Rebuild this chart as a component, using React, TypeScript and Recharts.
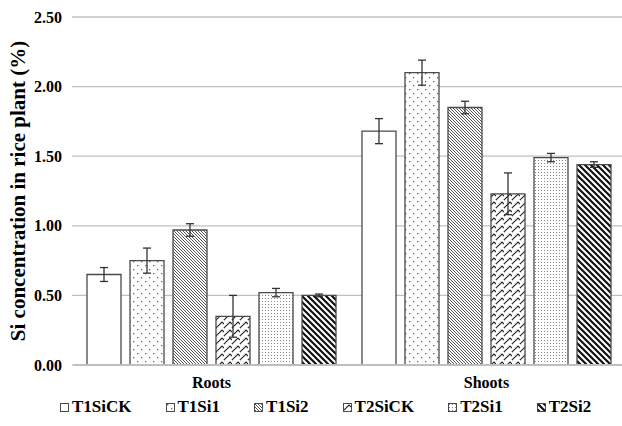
import React from 'react';
import { BarChart, Bar, XAxis, YAxis, CartesianGrid, ErrorBar, Label } from 'recharts';

const categories = ['Roots', 'Shoots'];
const seriesNames = ['T1SiCK', 'T1Si1', 'T1Si2', 'T2SiCK', 'T2Si1', 'T2Si2'];
const T1SiCK = [0.65, 1.68];
const T1SiCKErr = [0.05, 0.09];
const T1Si1 = [0.75, 2.10];
const T1Si1Err = [0.09, 0.09];
const T1Si2 = [0.97, 1.85];
const T1Si2Err = [0.045, 0.045];
const T2SiCK = [0.35, 1.23];
const T2SiCKErr = [0.15, 0.15];
const T2Si1 = [0.52, 1.49];
const T2Si1Err = [0.03, 0.03];
const T2Si2 = [0.50, 1.44];
const T2Si2Err = [0.01, 0.02];
const yTicks = [0, 0.5, 1.0, 1.5, 2.0, 2.5];

const values = [T1SiCK, T1Si1, T1Si2, T2SiCK, T2Si1, T2Si2];
const errors = [T1SiCKErr, T1Si1Err, T1Si2Err, T2SiCKErr, T2Si1Err, T2Si2Err];

const data = categories.map((c, i) => {
  const row: any = { name: c };
  seriesNames.forEach((s, k) => {
    row[s] = values[k][i];
    row[s + '_err'] = errors[k][i];
  });
  return row;
});

const fills = ['#ffffff', 'url(#pDots)', 'url(#pThin)', 'url(#pZig)', 'url(#pFine)', 'url(#pWide)'];
const FONT = '"Liberation Serif", "Times New Roman", serif';
const EDGE = '#4a4a4a';

const Patterns = () => (
  <svg width={0} height={0} style={{ position: 'absolute' }}>
    <defs>
      <pattern id="pDots" width={8} height={8} patternUnits="userSpaceOnUse">
        <rect width={8} height={8} fill="#fff" />
        <rect x={1} y={1} width={1.3} height={1.3} fill="#666" />
        <rect x={5} y={5} width={1.3} height={1.3} fill="#666" />
      </pattern>
      <pattern id="pThin" width={3} height={3} patternUnits="userSpaceOnUse">
        <rect width={3} height={3} fill="#fff" />
        <path d="M-1,-1 L4,4 M-1,2 L1,4 M2,-1 L4,1" stroke="#555" strokeWidth={1} />
      </pattern>
      <pattern id="pZig" width={8} height={8} patternUnits="userSpaceOnUse">
        <rect width={8} height={8} fill="#fff" />
        <path d="M0,8 L6,2 L8,4 M-2,2 L2,-2 M6,10 L10,6" stroke="#222" strokeWidth={1.1} fill="none" />
      </pattern>
      <pattern id="pFine" width={3} height={3} patternUnits="userSpaceOnUse">
        <rect width={3} height={3} fill="#fff" />
        <rect x={1} y={1} width={1} height={1} fill="#888" />
      </pattern>
      <pattern id="pWide" width={6} height={6} patternUnits="userSpaceOnUse">
        <rect width={6} height={6} fill="#fff" />
        <path d="M-1.5,-1.5 L7.5,7.5 M-1.5,4.5 L1.5,7.5 M4.5,-1.5 L7.5,1.5" stroke="#111" strokeWidth={2.2} />
      </pattern>
    </defs>
  </svg>
);

const YLabel = (props: any) => {
  const vb = props.viewBox || { x: 0, y: 0, width: 0, height: 0 };
  const cx = vb.x + 18;
  const cy = vb.y + vb.height / 2;
  return (
    <text
      x={cx}
      y={cy}
      transform={`rotate(-90 ${cx} ${cy})`}
      textAnchor="middle"
      dominantBaseline="central"
      fontFamily={FONT}
      fontWeight="bold"
      fontSize={21}
      fill="#000"
    >
      Si concentration in rice plant (%)
    </text>
  );
};

export default function App() {
  return (
    <div style={{ position: 'absolute', left: 0, top: 0, width: 622, height: 426, overflow: 'hidden', background: '#fff' }}>
      <Patterns />
      <BarChart
        width={624}
        height={426}
        data={data}
        margin={{ top: 17, right: 0, left: 0, bottom: 21 }}
        barSize={34}
        barGap={9}
      >
        <CartesianGrid vertical={false} stroke="#c0c0c0" strokeWidth={1.3} />
        <XAxis
          dataKey="name"
          height={40}
          tickLine={false}
          tickSize={0}
          tickMargin={12}
          axisLine={{ stroke: '#bfbfbf', strokeWidth: 2 }}
          tick={{ fontFamily: FONT, fontWeight: 'bold', fontSize: 16, fill: '#000' }}
        />
        <YAxis
          width={74}
          domain={[0, 2.5]}
          ticks={yTicks}
          interval={0}
          axisLine={false}
          tickLine={{ stroke: '#c0c0c0', strokeWidth: 1.3 }}
          tickSize={2}
          tickMargin={10}
          tickFormatter={(v: number) => v.toFixed(2)}
          tick={{ fontFamily: FONT, fontWeight: 'bold', fontSize: 16, fill: '#000' }}
        >
          <Label content={<YLabel />} />
        </YAxis>
        {seriesNames.map((s, k) => (
          <Bar key={s} dataKey={s} fill={fills[k]} stroke={EDGE} strokeWidth={1.3} isAnimationActive={false}>
            <ErrorBar dataKey={s + '_err'} width={4} stroke="#333" strokeWidth={1.3} />
          </Bar>
        ))}
      </BarChart>
      <div
        style={{
          position: 'absolute',
          left: 60,
          top: 397,
          display: 'flex',
          alignItems: 'center',
          fontFamily: FONT,
          fontWeight: 'bold',
          fontSize: 17,
          color: '#000',
          whiteSpace: 'nowrap',
        }}
      >
        {seriesNames.map((s, k) => (
          <div key={s} style={{ display: 'flex', alignItems: 'center', marginRight: 34 }}>
            <svg width={9} height={9} style={{ marginRight: 3 }}>
              <rect x={0.5} y={0.5} width={8} height={8} fill={fills[k]} stroke={EDGE} strokeWidth={1} />
            </svg>
            <span>{s}</span>
          </div>
        ))}
      </div>
    </div>
  );
}
